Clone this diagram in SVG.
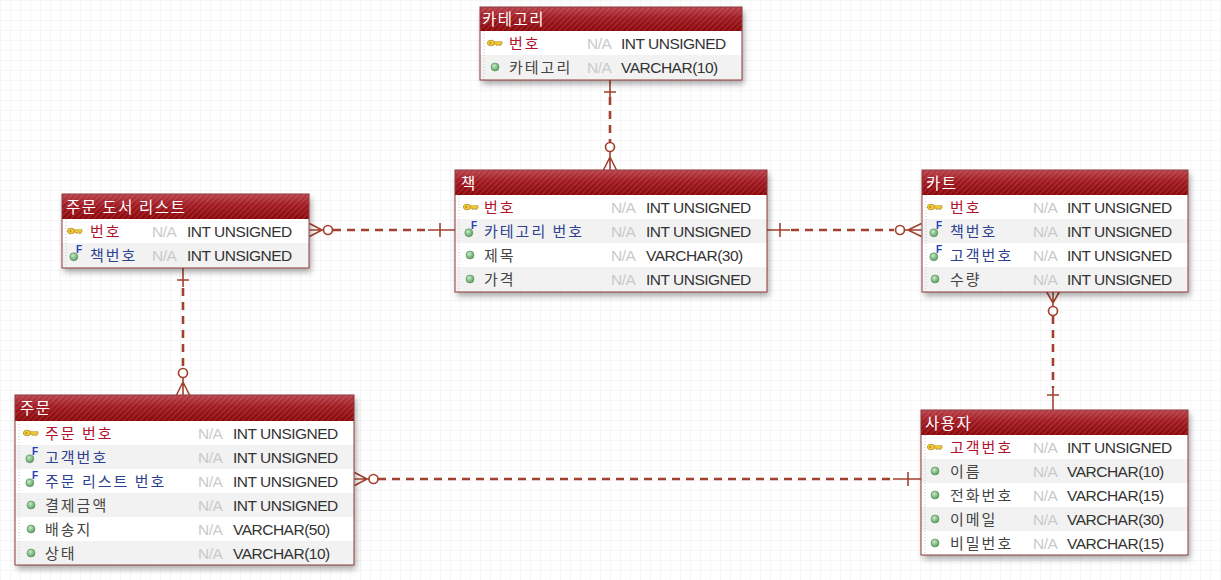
<svg xmlns="http://www.w3.org/2000/svg" width="1221" height="580" viewBox="0 0 1221 580">
<defs>
<pattern id="grid" width="10" height="10" patternUnits="userSpaceOnUse">
<path d="M10 0H0V10" fill="none" stroke="#eeeef2" stroke-width="1"/>
</pattern>
<linearGradient id="hg" x1="0" y1="0" x2="0" y2="1">
<stop offset="0" stop-color="#b8404a"/>
<stop offset="0.45" stop-color="#a01820"/>
<stop offset="1" stop-color="#8a0508"/>
</linearGradient>
<pattern id="hatch" width="4" height="4" patternUnits="userSpaceOnUse" patternTransform="rotate(45)">
<rect width="1.4" height="4" fill="#ffffff" fill-opacity="0.13"/>
</pattern>
<radialGradient id="gd" cx="0.4" cy="0.35" r="0.7">
<stop offset="0" stop-color="#c8eac8"/>
<stop offset="1" stop-color="#4f9a55"/>
</radialGradient>
<filter id="sh" x="-10%" y="-10%" width="125%" height="140%">
<feDropShadow dx="2" dy="4" stdDeviation="3" flood-color="#000" flood-opacity="0.35"/>
</filter>
<symbol id="key" viewBox="-8 -5 16 10" width="16" height="10" overflow="visible">
<ellipse cx="-4" cy="0" rx="3.6" ry="2.8" fill="#f2cc3e" stroke="#b38a12" stroke-width="0.8"/>
<path d="M-0.6 -1.3H7V1.3H5.5V2.6H4V1.3H2.6V2.4H1.2V1.3H-0.6Z" fill="#f2cc3e" stroke="#b38a12" stroke-width="0.6"/>
<circle cx="-4.6" cy="0" r="0.9" fill="#b38a12"/>
</symbol>
<symbol id="dot" viewBox="-5 -5 10 10" width="10" height="10" overflow="visible">
<circle r="4" fill="url(#gd)" stroke="#5c8a5e" stroke-width="0.6"/>
</symbol>
<symbol id="fk" viewBox="-6 -6 12 12" width="12" height="12" overflow="visible">
<circle cx="-1.2" cy="1.8" r="4" fill="url(#gd)" stroke="#5c8a5e" stroke-width="0.6"/>
</symbol>
</defs>
<style>
.bg{fill:#fff}
.alt{fill:#f2f2f2}
.hdr{fill:url(#hg)}
.hat{fill:url(#hatch)}
.bd{fill:none;stroke:#8e3a3c;stroke-width:1}
.sep{stroke:#c9c9c9;stroke-width:1;stroke-dasharray:1 2}
.title{font-family:"Noto Sans CJK KR","Noto Sans",sans-serif;font-size:15.5px;fill:#ffffff;letter-spacing:1.5px}
.nm{font-family:"Noto Sans CJK KR","Noto Sans",sans-serif;font-size:15px;letter-spacing:2px;fill:#444}
.pk{fill:#b3122c}
.fkc{fill:#2f4290}
.na{font-family:"Liberation Sans",Arial,sans-serif;font-size:15.5px;fill:#cacaca;letter-spacing:-0.5px}
.ty{font-family:"Liberation Sans",Arial,sans-serif;font-size:15.5px;fill:#333;letter-spacing:-0.5px}
.ff{font-family:"Liberation Sans",Arial,sans-serif;font-size:10px;font-weight:bold;fill:#2340b8}
.dash{fill:none;stroke:#a2412e;stroke-width:2.6;stroke-dasharray:8 6}
.sol{fill:none;stroke:#a2412e;stroke-width:1.6}
.cir{fill:#fff;stroke:#a2412e;stroke-width:1.7}
</style>
<rect width="1221" height="580" fill="#fff"/>
<rect width="1221" height="580" fill="url(#grid)"/>

<g id="connectors">
<g id="c-cat-book">
<path class="sol" d="M610 80V97M604 92H616"/>
<path class="dash" d="M610 97V142"/>
<circle class="cir" cx="610" cy="147" r="4.5"/>
<path class="sol" d="M610 151.5V170M610 157L603.5 170M610 157L616.5 170"/>
</g>
<g id="c-list-book">
<path class="sol" d="M309.5 230H323M322 230L309.5 223.5M322 230L309.5 236.5"/>
<circle class="cir" cx="328" cy="230" r="4.5"/>
<path class="dash" d="M333 230H430"/>
<path class="sol" d="M428 230H455M440 223V237"/>
</g>
<g id="c-book-cart">
<path class="sol" d="M767 230H790M780 223V237"/>
<path class="dash" d="M791 230H894"/>
<circle class="cir" cx="900" cy="230" r="4.5"/>
<path class="sol" d="M904.5 230H921.5M908 230L921.5 223.5M908 230L921.5 236.5"/>
</g>
<g id="c-list-order">
<path class="sol" d="M183 268V287M177 280H189"/>
<path class="dash" d="M183 288V368"/>
<circle class="cir" cx="183" cy="373" r="4.5"/>
<path class="sol" d="M183 377.5V395M183 382L176.5 395M183 382L189.5 395"/>
</g>
<g id="c-cart-user">
<path class="sol" d="M1053 291.5V306.5M1053 303L1046.5 291.5M1053 303L1059.5 291.5"/>
<circle class="cir" cx="1053" cy="311" r="4.5"/>
<path class="dash" d="M1053 316V388"/>
<path class="sol" d="M1053 387V410M1047 395H1059"/>
</g>
<g id="c-order-user">
<path class="sol" d="M354.5 479H369M367 479L354.5 472.5M367 479L354.5 485.5"/>
<circle class="cir" cx="373.5" cy="479" r="4.5"/>
<path class="dash" d="M378 479H895"/>
<path class="sol" d="M893 479H921M908 472V486"/>
</g>
</g>

<g id="tbl-category">
<rect x="480" y="7" width="262" height="73" class="bg" filter="url(#sh)"/>
<rect x="480" y="55" width="262" height="25" class="alt"/>
<rect x="480" y="7" width="262" height="24" class="hdr"/>
<rect x="480" y="7" width="262" height="24" class="hat"/>
<line x1="484" y1="31" x2="484" y2="80" class="sep"/>
<rect x="480" y="7" width="262" height="73" class="bd"/>
<text x="482" y="25" class="title">카테고리</text>
<use href="#key" x="487" y="38"/>
<text x="509" y="48.5" class="nm pk">번호</text>
<text x="587" y="48.5" class="na">N/A</text>
<text x="621" y="48.5" class="ty">INT UNSIGNED</text>
<use href="#dot" x="490" y="62"/>
<text x="509" y="72.5" class="nm">카테고리</text>
<text x="587" y="72.5" class="na">N/A</text>
<text x="621" y="72.5" class="ty">VARCHAR(10)</text>
</g>

<g id="tbl-book">
<rect x="455" y="170" width="312" height="122" class="bg" filter="url(#sh)"/>
<rect x="455" y="219" width="312" height="24" class="alt"/>
<rect x="455" y="267" width="312" height="25" class="alt"/>
<rect x="455" y="170" width="312" height="25" class="hdr"/>
<rect x="455" y="170" width="312" height="25" class="hat"/>
<line x1="459" y1="195" x2="459" y2="292" class="sep"/>
<rect x="455" y="170" width="312" height="122" class="bd"/>
<text x="461" y="188.5" class="title">책</text>
<use href="#key" x="463" y="202"/>
<text x="484" y="212.5" class="nm pk">번호</text>
<text x="611" y="212.5" class="na">N/A</text>
<text x="646" y="212.5" class="ty">INT UNSIGNED</text>
<use href="#fk" x="464" y="225"/>
<text x="471" y="229" class="ff">F</text>
<text x="484" y="236.5" class="nm fkc">카테고리 번호</text>
<text x="611" y="236.5" class="na">N/A</text>
<text x="646" y="236.5" class="ty">INT UNSIGNED</text>
<use href="#dot" x="465" y="250"/>
<text x="484" y="260.5" class="nm">제목</text>
<text x="611" y="260.5" class="na">N/A</text>
<text x="646" y="260.5" class="ty">VARCHAR(30)</text>
<use href="#dot" x="465" y="274"/>
<text x="484" y="284.5" class="nm">가격</text>
<text x="611" y="284.5" class="na">N/A</text>
<text x="646" y="284.5" class="ty">INT UNSIGNED</text>
</g>

<g id="tbl-orderlist">
<rect x="62" y="194" width="247" height="74" class="bg" filter="url(#sh)"/>
<rect x="62" y="243" width="247" height="25" class="alt"/>
<rect x="62" y="194" width="247" height="25" class="hdr"/>
<rect x="62" y="194" width="247" height="25" class="hat"/>
<line x1="66" y1="219" x2="66" y2="268" class="sep"/>
<rect x="62" y="194" width="247" height="74" class="bd"/>
<text x="66" y="212.5" class="title">주문 도서 리스트</text>
<use href="#key" x="67" y="226"/>
<text x="90" y="236.5" class="nm pk">번호</text>
<text x="152" y="236.5" class="na">N/A</text>
<text x="187" y="236.5" class="ty">INT UNSIGNED</text>
<use href="#fk" x="69" y="249"/>
<text x="76" y="253" class="ff">F</text>
<text x="90" y="260.5" class="nm fkc">책번호</text>
<text x="152" y="260.5" class="na">N/A</text>
<text x="187" y="260.5" class="ty">INT UNSIGNED</text>
</g>

<g id="tbl-cart">
<rect x="922" y="170" width="266" height="122" class="bg" filter="url(#sh)"/>
<rect x="922" y="219" width="266" height="24" class="alt"/>
<rect x="922" y="267" width="266" height="25" class="alt"/>
<rect x="922" y="170" width="266" height="25" class="hdr"/>
<rect x="922" y="170" width="266" height="25" class="hat"/>
<line x1="926" y1="195" x2="926" y2="292" class="sep"/>
<rect x="922" y="170" width="266" height="122" class="bd"/>
<text x="926" y="188.5" class="title">카트</text>
<use href="#key" x="927" y="202"/>
<text x="950" y="212.5" class="nm pk">번호</text>
<text x="1033" y="212.5" class="na">N/A</text>
<text x="1067" y="212.5" class="ty">INT UNSIGNED</text>
<use href="#fk" x="929" y="225"/>
<text x="936" y="229" class="ff">F</text>
<text x="950" y="236.5" class="nm fkc">책번호</text>
<text x="1033" y="236.5" class="na">N/A</text>
<text x="1067" y="236.5" class="ty">INT UNSIGNED</text>
<use href="#fk" x="929" y="249"/>
<text x="936" y="253" class="ff">F</text>
<text x="950" y="260.5" class="nm fkc">고객번호</text>
<text x="1033" y="260.5" class="na">N/A</text>
<text x="1067" y="260.5" class="ty">INT UNSIGNED</text>
<use href="#dot" x="930" y="274"/>
<text x="950" y="284.5" class="nm">수량</text>
<text x="1033" y="284.5" class="na">N/A</text>
<text x="1067" y="284.5" class="ty">INT UNSIGNED</text>
</g>

<g id="tbl-order">
<rect x="15" y="395" width="339" height="170" class="bg" filter="url(#sh)"/>
<rect x="15" y="445" width="339" height="24" class="alt"/>
<rect x="15" y="493" width="339" height="24" class="alt"/>
<rect x="15" y="541" width="339" height="24" class="alt"/>
<rect x="15" y="395" width="339" height="26" class="hdr"/>
<rect x="15" y="395" width="339" height="26" class="hat"/>
<line x1="19" y1="421" x2="19" y2="565" class="sep"/>
<rect x="15" y="395" width="339" height="170" class="bd"/>
<text x="20" y="414" class="title">주문</text>
<use href="#key" x="23" y="428"/>
<text x="45" y="438.5" class="nm pk">주문 번호</text>
<text x="198" y="438.5" class="na">N/A</text>
<text x="233" y="438.5" class="ty">INT UNSIGNED</text>
<use href="#fk" x="25" y="451"/>
<text x="32" y="455" class="ff">F</text>
<text x="45" y="462.5" class="nm fkc">고객번호</text>
<text x="198" y="462.5" class="na">N/A</text>
<text x="233" y="462.5" class="ty">INT UNSIGNED</text>
<use href="#fk" x="25" y="475"/>
<text x="32" y="479" class="ff">F</text>
<text x="45" y="486.5" class="nm fkc">주문 리스트 번호</text>
<text x="198" y="486.5" class="na">N/A</text>
<text x="233" y="486.5" class="ty">INT UNSIGNED</text>
<use href="#dot" x="26" y="500"/>
<text x="45" y="510.5" class="nm">결제금액</text>
<text x="198" y="510.5" class="na">N/A</text>
<text x="233" y="510.5" class="ty">INT UNSIGNED</text>
<use href="#dot" x="26" y="524"/>
<text x="45" y="534.5" class="nm">배송지</text>
<text x="198" y="534.5" class="na">N/A</text>
<text x="233" y="534.5" class="ty">VARCHAR(50)</text>
<use href="#dot" x="26" y="548"/>
<text x="45" y="558.5" class="nm">상태</text>
<text x="198" y="558.5" class="na">N/A</text>
<text x="233" y="558.5" class="ty">VARCHAR(10)</text>
</g>

<g id="tbl-user">
<rect x="921" y="410" width="267" height="145" class="bg" filter="url(#sh)"/>
<rect x="921" y="459" width="267" height="24" class="alt"/>
<rect x="921" y="507" width="267" height="24" class="alt"/>
<rect x="921" y="410" width="267" height="25" class="hdr"/>
<rect x="921" y="410" width="267" height="25" class="hat"/>
<line x1="925" y1="435" x2="925" y2="555" class="sep"/>
<rect x="921" y="410" width="267" height="145" class="bd"/>
<text x="925" y="428.5" class="title">사용자</text>
<use href="#key" x="927" y="442"/>
<text x="950" y="452.5" class="nm pk">고객번호</text>
<text x="1033" y="452.5" class="na">N/A</text>
<text x="1067" y="452.5" class="ty">INT UNSIGNED</text>
<use href="#dot" x="930" y="466"/>
<text x="950" y="476.5" class="nm">이름</text>
<text x="1033" y="476.5" class="na">N/A</text>
<text x="1067" y="476.5" class="ty">VARCHAR(10)</text>
<use href="#dot" x="930" y="490"/>
<text x="950" y="500.5" class="nm">전화번호</text>
<text x="1033" y="500.5" class="na">N/A</text>
<text x="1067" y="500.5" class="ty">VARCHAR(15)</text>
<use href="#dot" x="930" y="514"/>
<text x="950" y="524.5" class="nm">이메일</text>
<text x="1033" y="524.5" class="na">N/A</text>
<text x="1067" y="524.5" class="ty">VARCHAR(30)</text>
<use href="#dot" x="930" y="538"/>
<text x="950" y="548.5" class="nm">비밀번호</text>
<text x="1033" y="548.5" class="na">N/A</text>
<text x="1067" y="548.5" class="ty">VARCHAR(15)</text>
</g>
</svg>
